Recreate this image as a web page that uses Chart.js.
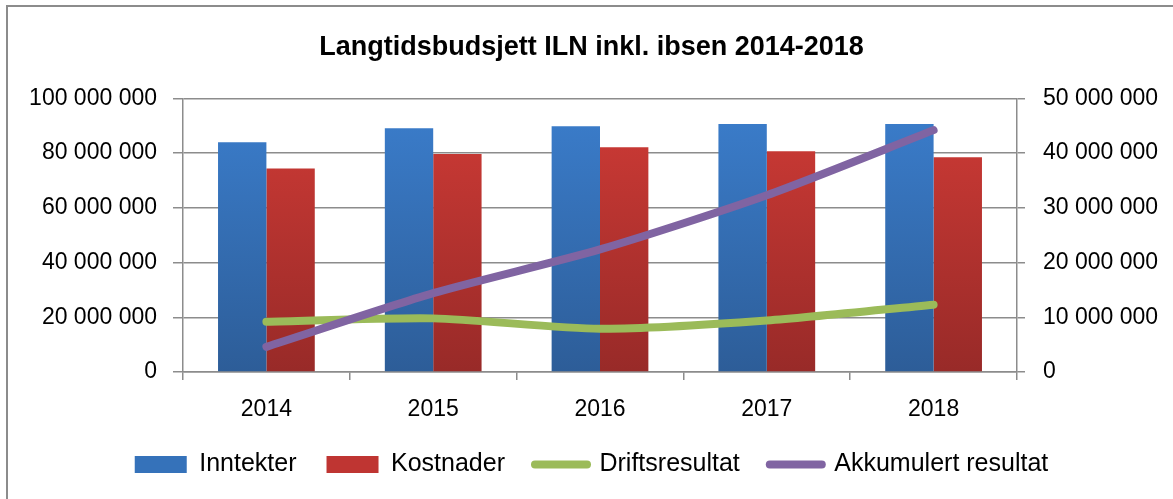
<!DOCTYPE html>
<html>
<head>
<meta charset="utf-8">
<title>Langtidsbudsjett ILN</title>
<script src="https://cdn.jsdelivr.net/npm/chart.js@4.4.1/dist/chart.umd.min.js"></script>
<style>
    html, body { margin: 0; padding: 0; background: #fff; }
    #wrap { position: relative; width: 1173px; height: 499px; }
    #frame { position: absolute; left: 6px; top: 5px; right: -4px; bottom: -4px; border: 2px solid #8c8c8c; pointer-events: none; }
</style>
</head>
<body>
<div id="wrap">
    <canvas id="budget-chart" width="1173" height="499"></canvas>
    <div id="frame"></div>
</div>
<script>
    "use strict";

    // Data
    const years = ["2014", "2015", "2016", "2017", "2018"];
    const inntekter = [84000000, 89100000, 89800000, 90600000, 90600000];
    const kostnader = [74400000, 79700000, 82100000, 80700000, 78500000];
    const driftsresultat = [9200000, 9800000, 7900000, 9400000, 12300000];
    const akkumulert = [4600000, 14400000, 22400000, 32300000, 44200000];
    const leftTicks = [0, 20000000, 40000000, 60000000, 80000000, 100000000];
    const rightTicks = [0, 10000000, 20000000, 30000000, 40000000, 50000000];

    const fontFamily = "'Liberation Sans', Arial, sans-serif";
    const gridColor = "#8c8c8c";

    // 100000000 -> "100 000 000"
    function spaced(v) {
        return String(v).replace(/\B(?=(\d{3})+(?!\d))/g, " ");
    }

    // vertical gradient over the plot area
    function barGradient(top, bottom, solid) {
        return function (ctx) {
            const area = ctx.chart.chartArea;
            if (!area) return solid;
            const g = ctx.chart.ctx.createLinearGradient(0, area.top, 0, area.bottom);
            g.addColorStop(0, top);
            g.addColorStop(1, bottom);
            return g;
        };
    }

    function fixTicks(values) {
        return function (scale) {
            scale.ticks = values.map(function (v) { return { value: v }; });
        };
    }

    const ctx = document.getElementById("budget-chart").getContext("2d");
    new Chart(ctx, {
        type: "bar",
        data: {
            labels: years,
            datasets: [{
                label: "Inntekter",
                data: inntekter,
                backgroundColor: barGradient("#3b7ecd", "#2d5d98", "#3470b8"),
                legendColor: "#3572ba",
                yAxisID: "y",
                order: 2,
                categoryPercentage: 0.58,
                barPercentage: 1.0
            }, {
                label: "Kostnader",
                data: kostnader,
                backgroundColor: barGradient("#d03b36", "#982a28", "#b83330"),
                legendColor: "#bf3532",
                yAxisID: "y",
                order: 3,
                categoryPercentage: 0.58,
                barPercentage: 1.0
            }, {
                type: "line",
                label: "Driftsresultat",
                data: driftsresultat,
                borderColor: "#9bbb59",
                backgroundColor: "#9bbb59",
                borderWidth: 8,
                borderCapStyle: "round",
                borderJoinStyle: "round",
                tension: 0.25,
                pointRadius: 0,
                order: 1,
                yAxisID: "y1"
            }, {
                type: "line",
                label: "Akkumulert resultat",
                data: akkumulert,
                borderColor: "#8064a2",
                backgroundColor: "#8064a2",
                borderWidth: 8,
                borderCapStyle: "round",
                borderJoinStyle: "round",
                tension: 0.25,
                pointRadius: 0,
                order: 0,
                yAxisID: "y1"
            }]
        },
        options: {
            responsive: false,
            animation: false,
            events: [],
            layout: { padding: { left: 10, right: 0, top: 0, bottom: 12 } },
            plugins: {
                title: {
                    display: true,
                    text: "Langtidsbudsjett ILN inkl. ibsen 2014-2018",
                    color: "#000",
                    font: { family: fontFamily, size: 27, weight: "bold", lineHeight: 1.2 },
                    padding: { top: 31, bottom: 35 }
                },
                legend: {
                    position: "bottom",
                    labels: {
                        color: "#000",
                        font: { family: fontFamily, size: 25 },
                        padding: 30,
                        usePointStyle: true,
                        pointStyleWidth: 52,
                        boxHeight: 17,
                        generateLabels: function (chart) {
                            return chart.data.datasets.map(function (ds, i) {
                                const isLine = ds.type === "line";
                                return {
                                    text: ds.label,
                                    datasetIndex: i,
                                    fillStyle: isLine ? ds.borderColor : ds.legendColor,
                                    strokeStyle: isLine ? ds.borderColor : ds.legendColor,
                                    lineWidth: isLine ? 8 : 0,
                                    lineCap: "round",
                                    pointStyle: isLine ? "line" : "rect",
                                    fontColor: "#000",
                                    hidden: false
                                };
                            });
                        }
                    }
                },
                tooltip: { enabled: false }
            },
            scales: {
                x: {
                    grid: {
                        offset: true,
                        drawOnChartArea: false,
                        drawTicks: true,
                        tickLength: 8,
                        color: gridColor,
                        lineWidth: 1.5
                    },
                    border: { color: gridColor, width: 1.5 },
                    ticks: { color: "#000", font: { family: fontFamily, size: 23 }, padding: 16 },
                    afterFit: function (scale) { scale.height = 50; }
                },
                y: {
                    position: "left",
                    min: 0,
                    max: 100000000,
                    afterBuildTicks: fixTicks(leftTicks),
                    grid: { color: gridColor, lineWidth: 1.5, tickLength: 10 },
                    border: { color: gridColor, width: 1.5 },
                    ticks: {
                        color: "#000",
                        font: { family: fontFamily, size: 23 },
                        padding: 16,
                        callback: function (v) { return spaced(v); }
                    },
                    afterFit: function (scale) { scale.width = 173; }
                },
                y1: {
                    position: "right",
                    min: 0,
                    max: 50000000,
                    afterBuildTicks: fixTicks(rightTicks),
                    grid: { drawOnChartArea: false, color: gridColor, lineWidth: 1.5, tickLength: 8 },
                    border: { color: gridColor, width: 1.5 },
                    ticks: {
                        color: "#000",
                        font: { family: fontFamily, size: 23 },
                        padding: 18,
                        callback: function (v) { return spaced(v); }
                    },
                    afterFit: function (scale) { scale.width = 156; }
                }
            }
        }
    });
</script>
</body>
</html>
